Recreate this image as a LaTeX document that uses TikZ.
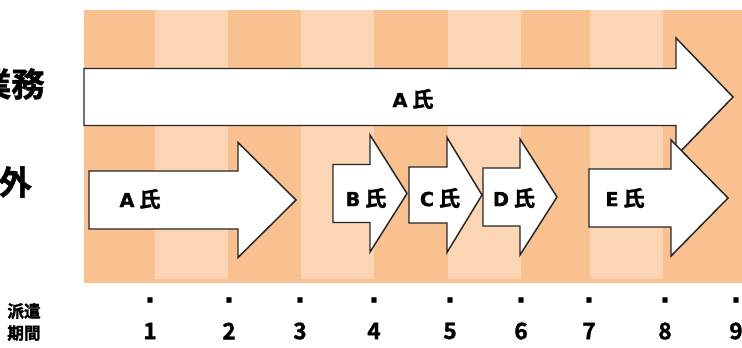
\documentclass[tikz,border=0pt]{standalone}
\usepackage{fontspec}
\newfontfamily\latfont{DejaVu Sans Bold}[FakeBold=1]
\newfontfamily\jpfont{Noto Sans CJK JP Bold}[FakeBold=1.5]
\definecolor{stripdark}{RGB}{249,192,144}
\definecolor{striplight}{RGB}{251,213,180}
\newcommand\shi[1]{{\latfont\fontsize{14.5}{17}\selectfont #1}\hspace{3.5pt}{\jpfont 氏}}

\begin{document}
\begin{tikzpicture}[x=0.75pt,y=-0.75pt]
        \tikzstyle{arr}=[draw=black!85, fill=white, line width=1.1pt, line join=miter]
        \tikzstyle{lbl}=[inner sep=0pt, font=\fontsize{16}{18}\selectfont]
        \tikzstyle{side}=[inner sep=0pt, anchor=east, font=\jpfont\fontsize{25}{30}\selectfont]
        \tikzstyle{num}=[inner sep=0pt, font=\jpfont\fontsize{17}{20}\selectfont]

        \useasboundingbox (0,0) rectangle (742,347);

        % stripes
        \fill[stripdark] (84,10) rectangle (742,283);
        \foreach \a/\b in {155/228, 301/374, 448/521, 590/663}
            \fill[striplight] (\a,10) rectangle (\b,279);

        % arrows: left / head base / tip / middle / half body / half head
        \foreach \xl/\xb/\xt/\yc/\bh/\hh in {84/676/733/97/28.5/59,
                89/238/296/200/29/57.5, 333/370/407/193.5/29/58.5,
                409/447/482/195/28/57.5, 483/520/557/197/29/58,
                589/671/728/198/29/58}
            \draw[arr] (\xl,\yc-\bh) -- (\xb,\yc-\bh) -- (\xb,\yc-\hh) -- (\xt,\yc)
                -- (\xb,\yc+\hh) -- (\xb,\yc+\bh) -- (\xl,\yc+\bh) -- cycle;

        \node[lbl] (bigA) at (413,99) {\shi{A}};
        \node[lbl] (lblA) at (140,199) {\shi{A}};
        \node[lbl] (lblB) at (366,198) {\shi{B}};
        \node[lbl] (lblC) at (440,198) {\shi{C}};
        \node[lbl] (lblD) at (514,198) {\shi{D}};
        \node[lbl] (lblE) at (625,198) {\shi{E}};

        \node[side] (gyomu) at (45,84) {業務};
        \node[side] (soto) at (32,182) {外};

        \node[inner sep=0pt, align=center, font=\jpfont\fontsize{12.5}{16.5}\selectfont]
            (kikan) at (24,322) {派遣\\期間};

        \foreach \x [count=\i] in {150,229,300,374,450,521,589,665,736} {
            \node[num] (d\i) at (\x,300) {\latfont\fontsize{20}{20}\selectfont .};
            \node[num] (n\i) at (\x,331) {\i};
        }
    \end{tikzpicture}
\end{document}
